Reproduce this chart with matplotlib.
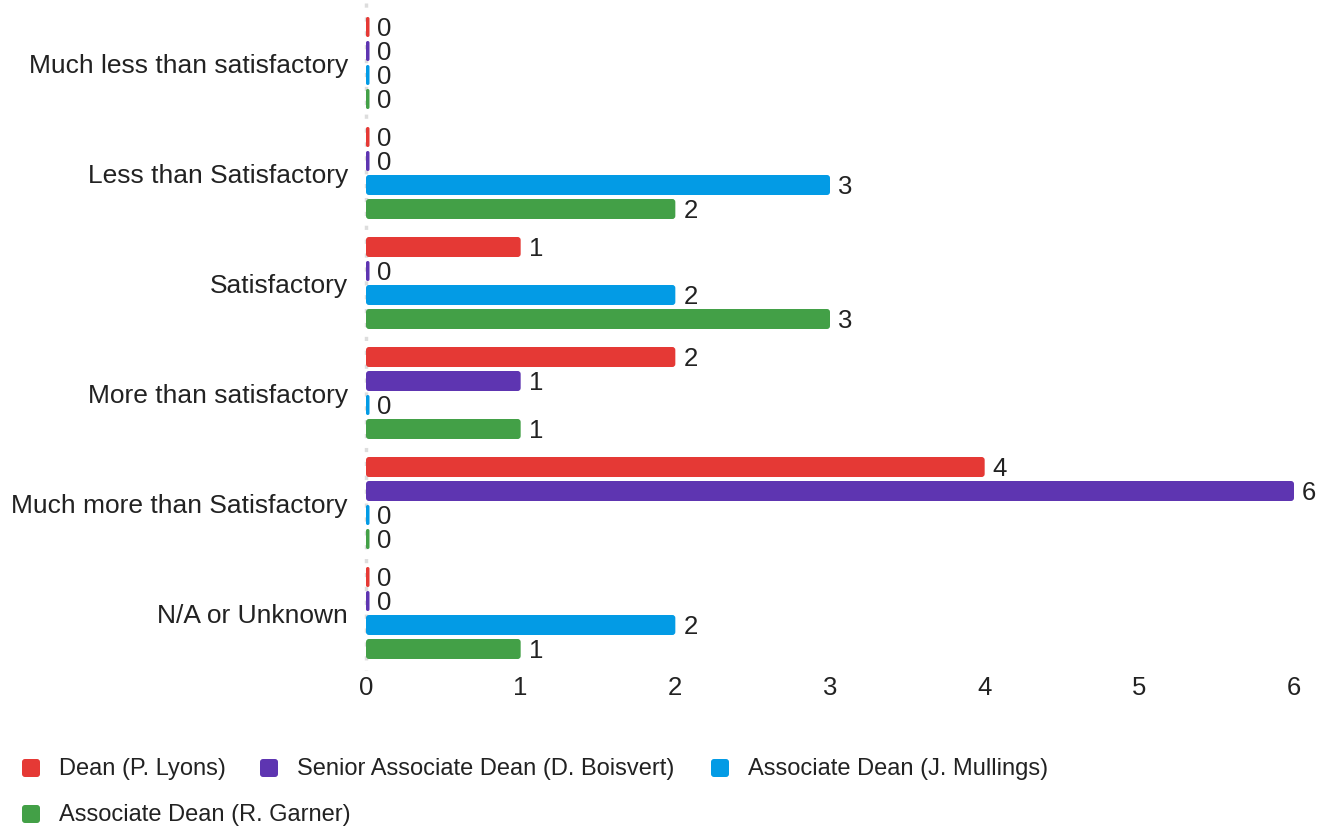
import matplotlib
matplotlib.use("Agg")
import matplotlib.pyplot as plt
from matplotlib.patches import FancyBboxPatch
import numpy as np

plt.rcParams['font.family'] = ['Liberation Sans', 'DejaVu Sans']

categories = ["Much less than satisfactory", "Less than Satisfactory", "Satisfactory",
              "More than satisfactory", "Much more than Satisfactory", "N/A or Unknown"]
series_names = ["Dean (P. Lyons)", "Senior Associate Dean (D. Boisvert)",
                "Associate Dean (J. Mullings)", "Associate Dean (R. Garner)"]
dean_lyons = [0, 0, 1, 2, 4, 0]
boisvert = [0, 0, 0, 1, 6, 0]
mullings = [0, 3, 2, 0, 0, 2]
garner = [0, 2, 3, 1, 0, 1]
series_values = [dean_lyons, boisvert, mullings, garner]
colors = ["#E53935", "#5E35B1", "#039BE5", "#43A047"]
x_ticks = [0, 1, 2, 3, 4, 5, 6]

W, H = 1329, 829
fig = plt.figure(figsize=(W / 100, H / 100), dpi=100)
ax_left, ax_right = 366 / W, 1294 / W
ax_top, ax_bot = 1 - 9 / H, 1 - 669 / H
ax = fig.add_axes([ax_left, ax_bot, ax_right - ax_left, ax_top - ax_bot])

n = len(categories)
ax.set_xlim(0, 6)
ax.set_ylim(n - 0.5, -0.5)

px_x = (ax_right - ax_left) * W / 6.0   # pixels per x unit
px_y = (ax_top - ax_bot) * H / n        # pixels per category
offsets = np.array([-36, -12, 12, 36]) / px_y
bar_h = 20 / px_y
min_w = 3.5 / px_x
rx = 3 / px_x
aspect = (3 / px_y) / rx

for s, (vals, col) in enumerate(zip(series_values, colors)):
    for i, v in enumerate(vals):
        w = max(v, min_w)
        yc = i + offsets[s]
        rs = min(rx, w / 2)
        p = FancyBboxPatch((0, yc - bar_h / 2), w, bar_h,
                           boxstyle=f"round,pad=0,rounding_size={rs}",
                           mutation_aspect=aspect, facecolor=col, edgecolor='none')
        ax.add_patch(p)
        ax.text(w + 8 / px_x, yc + 1 / px_y, str(v), va='center', ha='left',
                fontsize=18.5, color='#222222')

ax.plot([0, 0], [-0.55, n - 0.5 + 0.02], color='#dddddd', lw=2.5,
        linestyle=(0, (1.2, 2.8)), clip_on=False, zorder=0)

ax.set_yticks(range(n))
ax.set_yticklabels(categories, fontsize=19, color='#222222')
ax.set_xticks(x_ticks)
ax.set_xticklabels([str(t) for t in x_ticks], fontsize=18.5, color='#222222')
ax.tick_params(axis='both', length=0)
ax.tick_params(axis='y', pad=13)
ax.tick_params(axis='x', pad=5)
for sp in ax.spines.values():
    sp.set_visible(False)

# legend (manual flow layout)
leg_items = [(22, 769), (260, 769), (711, 769), (22, 815)]
for (lx, ly), name, col in zip(leg_items, series_names, colors):
    hx = lx / W
    hy = 1 - (ly + 9) / H
    fig.patches.append(FancyBboxPatch((hx, hy), 18 / W, 18 / H,
                                      boxstyle=f"round,pad=0,rounding_size={3 / W}",
                                      mutation_aspect=W / H,
                                      transform=fig.transFigure, facecolor=col,
                                      edgecolor='none'))
    fig.text((lx + 37) / W, 1 - ly / H, name, fontsize=17, color='#222222',
             va='center', ha='left')

fig.savefig("out.png", dpi=100)
